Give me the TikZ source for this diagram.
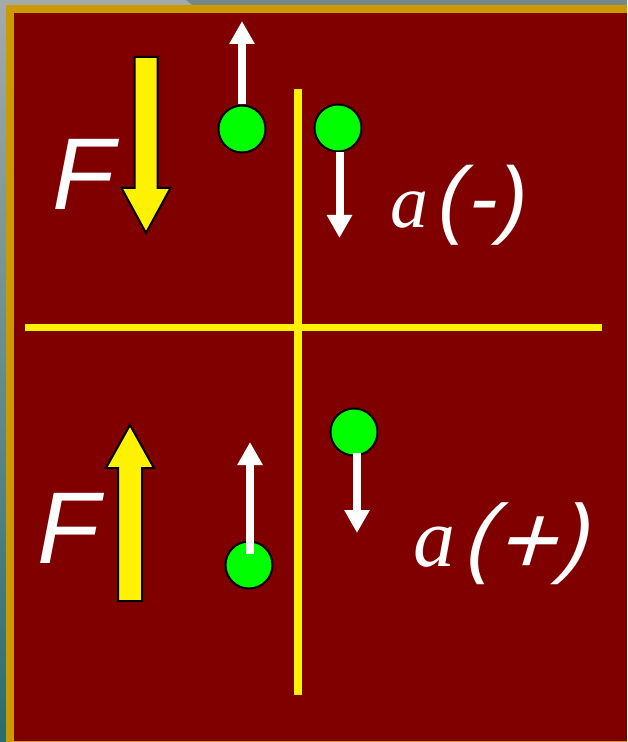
\documentclass[tikz,border=0pt]{standalone}
\usepackage{fontspec}
\setmainfont{Liberation Serif}
\setsansfont{Liberation Sans}
\newfontfamily\parfont[FakeSlant=0.3]{Liberation Sans}
\usetikzlibrary{arrows.meta,calc}
\definecolor{Maroon}{HTML}{800000}
\definecolor{Gold}{HTML}{CC9900}
\definecolor{Silver}{HTML}{A2AAAA}
\definecolor{Slate}{HTML}{748888}
\definecolor{Sea}{HTML}{2C6C6C}
\definecolor{Lime}{HTML}{00FF00}
\tikzset{
 ball/.style={circle,draw=black,line width=1pt,fill=Lime,minimum size=23.5pt,inner sep=0pt},
 vel/.style={-{Triangle[width=12pt,length=11.5pt]},line width=4pt,draw=white},
 force/.style={draw=black,line width=1pt,fill=yellow},
 axis/.style={draw=yellow,line width=4pt},
 sym/.style={text=white,inner sep=0pt,anchor=base west},
 bigF/.style={sym,font=\sffamily\itshape\fontsize{51}{51}\selectfont}
}
\newcommand{\avar}[1]{{\rmfamily\itshape\fontsize{#1}{#1}\selectfont a}}

\begin{document}
\begin{tikzpicture}[x=0.5pt,y=-0.5pt]
\useasboundingbox (0,0) rectangle (627,742);
% frame
\fill[Slate] (0,0) rectangle (627,5);
\fill[Silver] (0,0) -- (186,0) -- (192,5) -- (0,5) -- cycle;
\shade[top color=Silver,bottom color=Sea] (0,5) rectangle (6,742);
\fill[Gold] (6,5) rectangle (627,742);
\fill[Maroon] (14,13) rectangle (627,741);
% axes
\draw[axis] (298,89) -- (298,695);
\draw[axis,line width=3.5pt] (25,328) -- (602,328);
% forces
\draw[force] (134.5,57) -- (157.5,57) -- (157.5,188) -- (170.5,188) -- (146,233) -- (121.5,188) -- (134.5,188) -- cycle;
\draw[force] (118,601) -- (142,601) -- (142,468) -- (154,468) -- (130,425) -- (106,468) -- (118,468) -- cycle;
\node[bigF] (Ftop) at (52,210) {F};
\node[bigF] (Fbot) at (37,563) {F};
% balls
\node[ball] (c1) at (242,129) {};
\node[ball] (c2) at (338,128) {};
\node[ball] (c3) at (354,432) {};
\node[ball] (c4) at (249,565) {};
\coordinate (t1) at (242,21);
\coordinate (t2) at (339.5,238);
\coordinate (t3) at (357,533);
\coordinate (t4) at (250,442);
\draw[vel] ($(c2.south)+(1.5,0)$) -- (t2);
\draw[vel] (c1.north) -- (t1);
\draw[vel] ($(c3.center)+(3,21)$) -- (t3);
\draw[vel] ($(c4.center)+(1,-11)$) -- (t4);
% accelerations
\node[sym] (aneg) at (390,228) {\avar{38}\kern5pt{\sffamily\itshape\fontsize{43}{43}\selectfont(\kern1pt-\kern1pt)}};
\node[sym] (apos) at (413,566) {\avar{42}\kern3pt{\parfont\fontsize{44}{44}\selectfont(\kern2pt\raisebox{-4pt}{\fontsize{50}{50}\selectfont+}\kern1pt)}};
\end{tikzpicture}
\end{document}
